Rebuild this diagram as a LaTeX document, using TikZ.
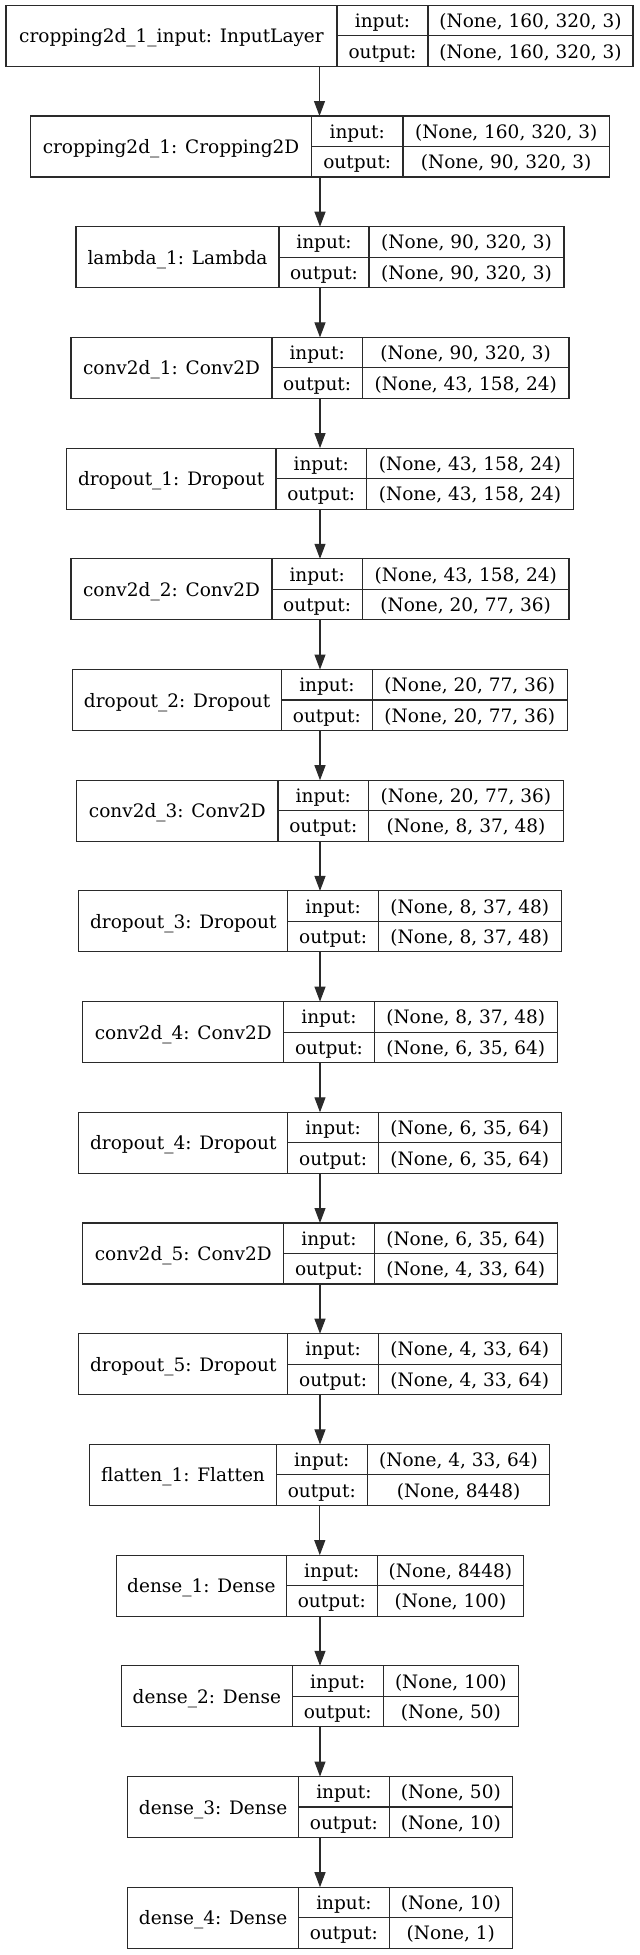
\documentclass[tikz,border=0pt]{standalone}
\usepackage{fontspec}
\setmainfont{DejaVu Serif}
\usetikzlibrary{arrows.meta}
\definecolor{lc}{HTML}{2A2A2A}
\tikzset{
  cellbox/.style={draw=lc, line width=1.1pt, inner sep=0pt, outer sep=0pt, align=center,
    font=\fontsize{18.5}{22}\selectfont, text height=14pt, text depth=0pt},
  wholebox/.style={inner sep=0pt, outer sep=0pt},
  arr/.style={draw=lc, line width=1.1pt, -{Triangle[length=15pt,width=11pt]}}
}
\newcommand\klayer[9]{%
  \pgfmathsetmacro\ktop{5.3+110.7*#2}%
  \node[wholebox, minimum width={(#6-#3)*1pt}, minimum height=61pt] (L#1) at ({(#3+#6)/2},{\ktop+30.5}) {};
  \node[cellbox, minimum width={(#4-#3)*1pt}, minimum height=61pt] (L#1n) at ({(#3+#4)/2},{\ktop+30.5}) {#7};
  \node[cellbox, minimum width={(#5-#4)*1pt}, minimum height=30.5pt] (L#1il) at ({(#4+#5)/2},{\ktop+15.25}) {input:};
  \node[cellbox, minimum width={(#5-#4)*1pt}, minimum height=30.5pt] (L#1ol) at ({(#4+#5)/2},{\ktop+45.75}) {output:};
  \node[cellbox, minimum width={(#6-#5)*1pt}, minimum height=30.5pt] (L#1iv) at ({(#5+#6)/2},{\ktop+15.25}) {#8};
  \node[cellbox, minimum width={(#6-#5)*1pt}, minimum height=30.5pt] (L#1ov) at ({(#5+#6)/2},{\ktop+45.75}) {#9};
}
\begin{document}
\begin{tikzpicture}[x=1pt,y=-1pt]
\fill[white] (0,0) rectangle (640,1955);
\useasboundingbox (0,0) rectangle (640,1955);
\klayer{0}{0}{6}{337}{428}{633}{cropping2d\_1\_input: InputLayer}{(None, 160, 320, 3)}{(None, 160, 320, 3)}
\klayer{1}{1}{30.6}{311.5}{403}{609.4}{cropping2d\_1: Cropping2D}{(None, 160, 320, 3)}{(None, 90, 320, 3)}
\klayer{2}{2}{76}{279}{369}{564}{lambda\_1: Lambda}{(None, 90, 320, 3)}{(None, 90, 320, 3)}
\klayer{3}{3}{71}{272}{362.4}{569}{conv2d\_1: Conv2D}{(None, 90, 320, 3)}{(None, 43, 158, 24)}
\klayer{4}{4}{66.5}{276}{366.5}{573.5}{dropout\_1: Dropout}{(None, 43, 158, 24)}{(None, 43, 158, 24)}
\klayer{5}{5}{71}{272}{362.4}{569}{conv2d\_2: Conv2D}{(None, 43, 158, 24)}{(None, 20, 77, 36)}
\klayer{6}{6}{72.7}{281.6}{372.2}{567.3}{dropout\_2: Dropout}{(None, 20, 77, 36)}{(None, 20, 77, 36)}
\klayer{7}{7}{76.7}{278}{368.6}{563.3}{conv2d\_3: Conv2D}{(None, 20, 77, 36)}{(None, 8, 37, 48)}
\klayer{8}{8}{78.8}{287.8}{378.4}{561.2}{dropout\_3: Dropout}{(None, 8, 37, 48)}{(None, 8, 37, 48)}
\klayer{9}{9}{82.9}{283.7}{374.3}{557.1}{conv2d\_4: Conv2D}{(None, 8, 37, 48)}{(None, 6, 35, 64)}
\klayer{10}{10}{78.8}{287.8}{378.4}{561.2}{dropout\_4: Dropout}{(None, 6, 35, 64)}{(None, 6, 35, 64)}
\klayer{11}{11}{82.9}{283.7}{374.3}{557.1}{conv2d\_5: Conv2D}{(None, 6, 35, 64)}{(None, 4, 33, 64)}
\klayer{12}{12}{78.8}{287.8}{378.4}{561.2}{dropout\_5: Dropout}{(None, 4, 33, 64)}{(None, 4, 33, 64)}
\klayer{13}{13}{89.8}{276.3}{367.3}{549.8}{flatten\_1: Flatten}{(None, 4, 33, 64)}{(None, 8448)}
\klayer{14}{14}{116.3}{286.5}{377.1}{523.7}{dense\_1: Dense}{(None, 8448)}{(None, 100)}
\klayer{15}{15}{121.6}{292.2}{383.3}{518.4}{dense\_2: Dense}{(None, 100)}{(None, 50)}
\klayer{16}{16}{127.8}{298.4}{389.4}{512.2}{dense\_3: Dense}{(None, 50)}{(None, 10)}
\klayer{17}{17}{127.8}{298.4}{389.4}{512.2}{dense\_4: Dense}{(None, 10)}{(None, 1)}
\foreach \i [evaluate=\i as \j using int(\i+1)] in {0,...,16} {
  \draw[arr] (L\i.south) -- (L\i.south |- L\j.north);
}
\end{tikzpicture}
\end{document}
